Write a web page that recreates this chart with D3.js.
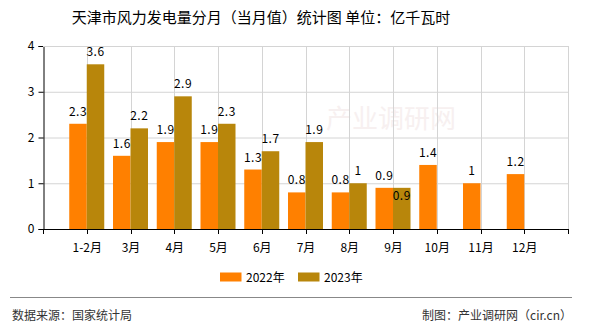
<!DOCTYPE html>
<html><head><meta charset="utf-8">
<script src="https://cdn.jsdelivr.net/npm/d3@7"></script>
<style>
html,body{margin:0;padding:0;background:#fff;}
svg{display:block;font-family:"Noto Sans CJK SC","DejaVu Sans",sans-serif;}
</style></head>
<body>
<svg id="c" width="590" height="330"></svg>
<script>
const categories = ["1-2月","3月","4月","5月","6月","7月","8月","9月","10月","11月","12月"];
const series2022 = [2.3,1.6,1.9,1.9,1.3,0.8,0.8,0.9,1.4,1,1.2];
const series2023 = [3.6,2.2,2.9,2.3,1.7,1.9,1,0.9,null,null,null];
const seriesNames = ["2022年","2023年"];
const colors = ["#FF8000","#B8860B"];
const yTicks = [0,1,2,3,4];
const title = "天津市风力发电量分月（当月值）统计图 单位：亿千瓦时";
const sourceText = "数据来源：国家统计局";
const creditText = "制图：产业调研网（cir.cn）";

const svg = d3.select("#c");
const L = 43, R = 568, T = 46, B = 229;

const x = d3.scalePoint().domain(categories).range([L, R]).padding(1);
const step = x.step();
const bw = step * 0.4;
const y = d3.scaleLinear().domain([0, 4]).range([B, T]);

// Title
svg.append("text").attr("x", 261).attr("y", 23).attr("text-anchor", "middle")
  .attr("font-size", 15).attr("fill", "#000").text(title);

// Watermark
svg.append("text").attr("x", 391).attr("y", 128).attr("text-anchor", "middle")
  .attr("font-size", 26).attr("fill", "#f7f0f0").text("产业调研网");

// Grid
const g = svg.append("g");
g.selectAll("line.h").data(yTicks.filter(d => d > 0)).join("line")
  .attr("x1", L).attr("x2", R).attr("y1", d => y(d) + 0.5).attr("y2", d => y(d) + 0.5)
  .attr("stroke", "#d4d4d4").attr("stroke-width", 1);
const gridX = categories.map(c => x(c)).concat([R]);
g.selectAll("line.v").data(gridX).join("line")
  .attr("x1", d => Math.round(d) + 0.5).attr("x2", d => Math.round(d) + 0.5)
  .attr("y1", T).attr("y2", B)
  .attr("stroke", "#d4d4d4").attr("stroke-width", 1);

// Bars
const allSeries = [series2022, series2023];
allSeries.forEach((s, si) => {
  svg.append("g").selectAll("rect").data(categories.map((c, i) => ({c, v: s[i]})).filter(d => d.v != null))
    .join("rect")
    .attr("x", d => x(d.c) + (si === 0 ? -bw : 0))
    .attr("width", bw)
    .attr("y", d => y(d.v))
    .attr("height", d => B - y(d.v))
    .attr("fill", colors[si]);
});

// Labels
const fmt = v => String(v);
allSeries.forEach((s, si) => {
  svg.append("g").selectAll("text").data(categories.map((c, i) => ({c, i, v: s[i]})).filter(d => d.v != null))
    .join("text")
    .attr("x", d => x(d.c) + (si === 0 ? -bw / 2 : bw / 2))
    .attr("y", d => {
      const other = si === 1 ? series2022[d.i] : null;
      if (other != null && Math.abs(other - d.v) < 0.05) return y(d.v) + 12;
      return y(d.v) - 8;
    })
    .attr("text-anchor", "middle").attr("font-size", 12).attr("fill", "#000")
    .attr("letter-spacing", "0.5")
    .text(d => fmt(d.v));
});

// Y axis
const yAxis = svg.append("g").attr("transform", `translate(${L + 0.5},0)`)
  .call(d3.axisLeft(y).tickValues(yTicks).tickSize(5).tickPadding(4).tickFormat(d3.format("d")));
yAxis.select(".domain").attr("stroke", "#000");
yAxis.selectAll(".tick line").attr("stroke", "#000");
yAxis.selectAll("text").attr("font-size", 12).attr("fill", "#000").attr("font-family", "Noto Sans CJK SC");

// Top border
svg.append("line").attr("x1", L).attr("x2", R).attr("y1", T + 0.5).attr("y2", T + 0.5).attr("stroke", "#d4d4d4");

// X axis
const xAxis = svg.append("g").attr("transform", `translate(0,${B + 0.5})`)
  .call(d3.axisBottom(x).tickSize(0).tickPadding(14));
xAxis.select(".domain").attr("stroke", "#000").attr("d", `M${L},0H${R}`);
xAxis.selectAll("text").attr("font-size", 12).attr("fill", "#000").attr("font-family", "Noto Sans CJK SC");
svg.append("g").selectAll("line").data([L].concat(gridX)).join("line")
  .attr("x1", d => Math.round(d) + 0.5).attr("x2", d => Math.round(d) + 0.5)
  .attr("y1", B).attr("y2", B + 5).attr("stroke", "#000");

// Legend
const legendX = [220, 298];
seriesNames.forEach((n, i) => {
  svg.append("rect").attr("x", legendX[i]).attr("y", 272.5).attr("width", 21.5).attr("height", 9).attr("fill", colors[i]);
  svg.append("text").attr("x", legendX[i] + 26).attr("y", 281.5).attr("font-size", 12).attr("fill", "#000").text(n);
});

// Separator and footer
svg.append("line").attr("x1", 10).attr("x2", 572).attr("y1", 297.5).attr("y2", 297.5).attr("stroke", "#888").attr("stroke-width", 1);
svg.append("text").attr("x", 12).attr("y", 320).attr("font-size", 12).attr("fill", "#333").text(sourceText);
svg.append("text").attr("x", 572).attr("y", 320).attr("text-anchor", "end").attr("font-size", 12).attr("fill", "#333").text(creditText);
</script>
</body></html>
